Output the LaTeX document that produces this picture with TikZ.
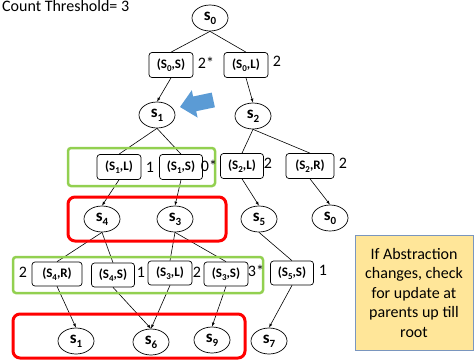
\documentclass[tikz,border=0pt]{standalone}
\usepackage{fontspec}
\setmainfont{Carlito}
\usetikzlibrary{shapes.geometric,arrows.meta}

\definecolor{grpgreen}{HTML}{92D050}
\definecolor{grpred}{HTML}{FF0000}
\definecolor{hintblue}{HTML}{5B9BD5}
\definecolor{notefill}{HTML}{FFE699}
\definecolor{noteline}{HTML}{7A96BE}

% state label s_i and state-action label (S_i,a)
\newcommand{\stlab}[1]{\textbf{s\raisebox{-0.45ex}{\fontsize{11}{11}\selectfont #1}}}
\newcommand{\salab}[2]{\textbf{(S\raisebox{-0.4ex}{\fontsize{9}{9}\selectfont #1},#2)}}

\tikzset{
  state/.style={ellipse, draw, line width=0.7pt, minimum width=36pt, minimum height=26pt,
    inner sep=0pt, font=\fontsize{17}{17}\selectfont},
  sabox/.style={rectangle, draw, rounded corners=3pt, line width=0.7pt, minimum width=44pt,
    minimum height=25pt, inner sep=0pt, font=\fontsize{13}{13}\selectfont},
  cnt/.style={font=\fontsize{16}{16}\selectfont, inner sep=0pt},
  link/.style={line width=0.6pt},
  alink/.style={line width=0.6pt, -{Latex[length=4pt,width=3pt]}},
  greengrp/.style={draw=grpgreen, line width=2.5pt, rounded corners=3pt},
  redgrp/.style={draw=grpred, line width=3pt, rounded corners=7pt},
}

\begin{document}
\begin{tikzpicture}[x=1pt,y=-1pt]
\useasboundingbox (0,0) rectangle (474,360);

\node[anchor=base west, font=\fontsize{16}{16}\selectfont, inner sep=0pt] (thr) at (2,11.5) {Count Threshold= 3};

% states
\node[state] (s0a) at (210,18) {\stlab{0}};
\node[state] (s1a) at (157,115) {\stlab{1}};
\node[state] (s2a) at (253,116) {\stlab{2}};
\node[state] (s4a) at (102,219) {\stlab{4}};
\node[state] (s3a) at (175,219) {\stlab{3}};
\node[state] (s5a) at (259,219) {\stlab{5}};
\node[state] (s0b) at (330,218) {\stlab{0}};
\node[state] (s1b) at (76,341) {\stlab{1}};
\node[state] (s6a) at (151,342) {\stlab{6}};
\node[state] (s9a) at (212,340) {\stlab{9}};
\node[state] (s7a) at (269,341) {\stlab{7}};

% state-action pairs
\node[sabox] (b0S) at (171,65) {\salab{0}{S}};
\node[sabox] (b0L) at (246,65) {\salab{0}{L}};
\node[sabox] (b1L) at (119,167) {\salab{1}{L}};
\node[sabox, minimum width=43pt] (b1S) at (181,167) {\salab{1}{S}};
\node[sabox, minimum width=43pt] (b2L) at (242,166) {\salab{2}{L}};
\node[sabox, minimum width=48pt] (b2R) at (310,166) {\salab{2}{R}};
\node[sabox, minimum width=50pt, minimum height=24pt] (b4R) at (57,274) {\salab{4}{R}};
\node[sabox, minimum width=43pt, minimum height=24pt] (b4S) at (113,275) {\salab{4}{S}};
\node[sabox, minimum height=24pt] (b3L) at (170,273) {\salab{3}{L}};
\node[sabox, minimum height=24pt] (b3S) at (226,274) {\salab{3}{S}};
\node[sabox, minimum width=43pt, minimum height=24pt] (b5S) at (292,273) {\salab{5}{S}};

% tree links
\draw[link] (s0a.south) -- (b0S.north);
\draw[link] (s0a.south) -- (b0L.north);
\draw[alink] (b0S.south) -- (s1a.north);
\draw[alink] (b0L.south) -- (s2a.north);
\draw[link] (s1a.south) -- (b1L.north);
\draw[link] (s1a.south) -- (b1S.north);
\draw[link] (s2a.south) -- (b2L.north);
\draw[link] (s2a.south) -- (b2R.north);
\draw[alink] (b1L.south) -- (s4a.north);
\draw[alink] (b1S.south) -- (s3a.north);
\draw[alink] (b2L.south) -- (s5a.north);
\draw[alink] (b2R.south) -- (s0b.north);
\draw[link] (s4a.south) -- (b4R.north);
\draw[link] (s4a.south) -- (b4S.north);
\draw[link] (s3a.south) -- (b3L.north);
\draw[link] (s3a.south) -- (b3S.north);
\draw[link] (s5a.south) -- (b5S.north);
\draw[alink] (b4R.south) -- (s1b.north);
\draw[alink] (b4S.south) -- (s6a.north);
\draw[alink] (b3L.south) -- (s6a.north);
\draw[alink] (b3S.south) -- (s9a.north);
\draw[alink] (b5S.south) -- (s7a.north);

% groupings
\draw[greengrp] (68,148) rectangle (215,186);
\draw[greengrp] (13,257) rectangle (263,293);
\draw[redgrp] (68,197) rectangle (226,241);
\draw[redgrp] (13,314) rectangle (245,358);

% counts
\node[cnt] (c0S) at (206,63) {2*};
\node[cnt] (c0L) at (277,61) {2};
\node[cnt] (c1L) at (150,167) {1};
\node[cnt] (c1S) at (209,166) {0*};
\node[cnt] (c2L) at (268,163) {2};
\node[cnt] (c2R) at (343,163) {2};
\node[cnt] (c4R) at (23,272) {2};
\node[cnt] (c4S) at (141,272) {1};
\node[cnt] (c3L) at (197,272) {2};
\node[cnt] (c3S) at (256,271) {3*};
\node[cnt] (c5S) at (323,270) {1};

% pointer to the updated node
\fill[hintblue] (180,107) -- (197.6,117.6) -- (196.2,111.2) -- (214.9,107.3)
  -- (211.7,92.6) -- (193.1,96.5) -- (191.8,90.2) -- cycle;

% note
\node[draw=noteline, fill=notefill, line width=0.8pt, minimum width=118pt, minimum height=115pt,
  align=center, inner sep=0pt, font=\fontsize{16}{19.5}\selectfont] (note) at (414,292.5)
  {If Abstraction\\changes, check\\for update at\\parents up till\\root};
\end{tikzpicture}
\end{document}
